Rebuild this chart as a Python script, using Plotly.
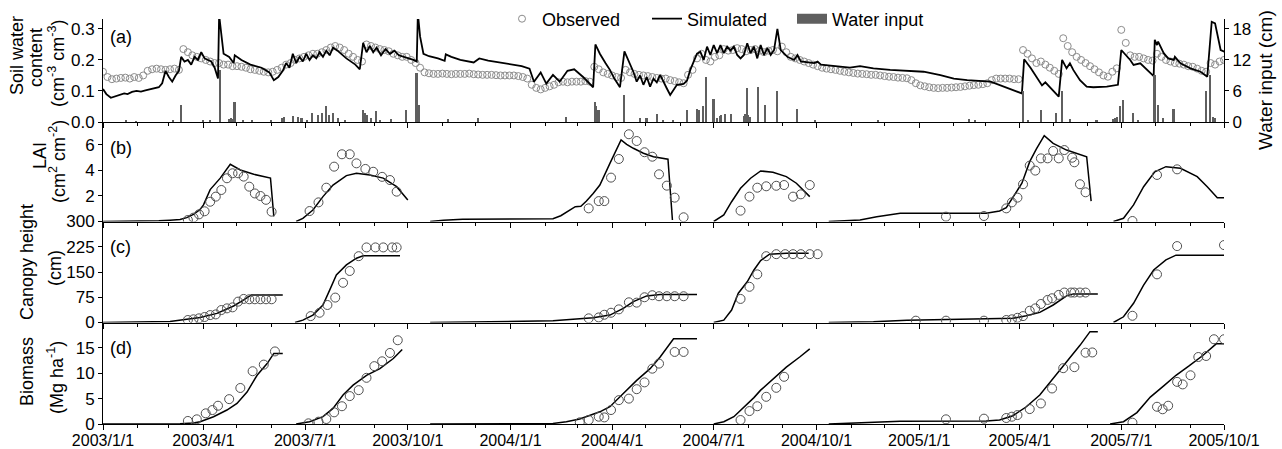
import pandas as pd
import plotly.graph_objects as go

DAY0 = "2003-01-01"
X_END = "2005-10-01"

# ---------------- (a) soil water content ----------------
SWC_OBS_FIRST_DAY = 0
SWC_OBS_INTERVAL = 4
SWC_OBS = [
    0.162, 0.145, 0.138, 0.14, 0.142, 0.143, 0.14, 0.145, 0.142, 0.15,
    0.165, 0.17, 0.172, 0.17, 0.168, 0.17, 0.172, 0.168, 0.235, 0.225,
    0.215, 0.21, 0.205, 0.2, 0.195, 0.19, 0.19, 0.185, 0.185, 0.18,
    0.18, 0.178, 0.175, 0.17, 0.168, 0.165, 0.162, 0.16, 0.162, 0.168,
    0.175, 0.185, 0.19, 0.2, 0.205, 0.21, 0.215, 0.22, 0.22, 0.225,
    0.232, 0.24, 0.245, 0.24, 0.232, 0.22, 0.21, 0.2, 0.195, 0.25,
    0.245, 0.24, 0.235, 0.232, 0.228, 0.22, 0.215, 0.21, 0.21, 0.2,
    0.19, 0.175, 0.16, 0.157, 0.155, 0.155, 0.156, 0.155, 0.154, 0.155,
    0.155, 0.155, 0.156, 0.154, 0.153, 0.152, 0.152, 0.152, 0.151, 0.15,
    0.15, 0.15, 0.15, 0.148, 0.145, 0.14, 0.12, 0.11, 0.105, 0.11,
    0.115, 0.12, 0.128, 0.13, 0.128, 0.13, 0.13, 0.13, 0.132, 0.13,
    0.178, 0.17, 0.16, 0.155, 0.15, 0.145, 0.142, 0.168, 0.16, 0.155,
    0.152, 0.15, 0.148, 0.145, 0.142, 0.14, 0.14, 0.135, 0.132, 0.128,
    0.125, 0.152, 0.168, 0.205, 0.22, 0.2, 0.195, 0.21, 0.215, 0.235,
    0.23, 0.232, 0.238, 0.235, 0.228, 0.232, 0.235, 0.23, 0.225, 0.23,
    0.232, 0.228, 0.243, 0.225, 0.21, 0.205, 0.2, 0.195, 0.19, 0.185,
    0.18, 0.175, 0.172, 0.17, 0.168, 0.165, 0.162, 0.16, 0.158, 0.156,
    0.155, 0.154, 0.152, 0.152, 0.15, 0.148, 0.146, 0.145, 0.143, 0.142,
    0.141, 0.135, 0.125, 0.118, 0.115, 0.112, 0.11, 0.109, 0.11, 0.11,
    0.111, 0.112, 0.113, 0.115, 0.117, 0.119, 0.12, 0.122, 0.125, 0.135,
    0.14, 0.14, 0.14, 0.14, 0.138, 0.138, 0.232, 0.22, 0.205, 0.19,
    0.195, 0.185, 0.175, 0.165, 0.155, 0.27, 0.245, 0.225, 0.21, 0.2,
    0.19, 0.18, 0.17, 0.16, 0.15, 0.146, 0.162, 0.173, 0.297, 0.255,
    0.215, 0.21, 0.21, 0.205, 0.2, 0.198, 0.22, 0.21, 0.2, 0.195,
    0.19, 0.188, 0.185, 0.18, 0.178, 0.172, 0.165, 0.162, 0.19, 0.185,
    0.195, 0.2,
]

SWC_SIM_DAYS = [
    0, 3, 7, 11, 15, 19, 22, 26, 30, 34, 38, 42, 46, 50, 53, 56, 59, 62, 65, 68,
    70, 73, 76, 79, 82, 85, 88, 91, 94, 97, 100, 103, 104, 106, 108, 113, 117, 118, 124, 132,
    142, 149, 153, 157, 161, 164, 167, 170, 173, 176, 179, 182, 185, 188, 191, 194, 197, 200, 203, 206,
    210, 218, 226, 230, 233, 236, 239, 242, 245, 249, 253, 257, 261, 265, 270, 274, 278, 281, 282, 284,
    287, 292, 300, 306, 307, 312, 320, 332, 337, 345, 360, 375, 382, 386, 392, 397, 403, 409, 416, 422,
    430, 439, 441, 445, 450, 454, 458, 463, 467, 472, 475, 478, 481, 484, 487, 490, 493, 496, 499, 505,
    508, 514, 520, 523, 526, 532, 535, 538, 541, 544, 547, 550, 553, 556, 559, 562, 565, 568, 571, 574,
    577, 580, 583, 586, 589, 592, 595, 598, 601, 604, 607, 613, 619, 622, 625, 637, 640, 643, 669, 678,
    690, 705, 720, 735, 750, 762, 774, 786, 795, 823, 825, 831, 837, 841, 844, 856, 859, 863, 866, 869,
    875, 881, 887, 899, 909, 912, 920, 923, 929, 935, 941, 942, 944, 945, 950, 954, 959, 960, 965, 974,
    983, 989, 993, 996, 1001, 1005,
]
SWC_SIM = [
    0.106, 0.09, 0.078, 0.082, 0.088, 0.092, 0.09, 0.097, 0.1, 0.098, 0.102, 0.106, 0.108, 0.112, 0.125, 0.165, 0.145, 0.13, 0.15, 0.165,
    0.21, 0.195, 0.2, 0.185, 0.21, 0.2, 0.225, 0.205, 0.2, 0.195, 0.175, 0.14, 0.345, 0.27, 0.22, 0.21, 0.19, 0.215, 0.2, 0.185,
    0.175, 0.16, 0.135, 0.145, 0.165, 0.19, 0.175, 0.22, 0.19, 0.21, 0.195, 0.22, 0.2, 0.215, 0.205, 0.225, 0.21, 0.23, 0.215, 0.24,
    0.23, 0.205, 0.185, 0.17, 0.255, 0.225, 0.245, 0.225, 0.24, 0.215, 0.235, 0.22, 0.23, 0.215, 0.21, 0.205, 0.2, 0.195, 0.35, 0.275,
    0.22, 0.212, 0.205, 0.197, 0.218, 0.21, 0.2, 0.192, 0.205, 0.198, 0.19, 0.18, 0.172, 0.13, 0.16, 0.124, 0.152, 0.13, 0.165, 0.17,
    0.145, 0.112, 0.25, 0.22, 0.19, 0.168, 0.14, 0.112, 0.228, 0.19, 0.162, 0.13, 0.15, 0.12, 0.145, 0.114, 0.14, 0.128, 0.152, 0.108,
    0.087, 0.12, 0.123, 0.133, 0.168, 0.22, 0.226, 0.2, 0.243, 0.216, 0.248, 0.222, 0.248, 0.222, 0.243, 0.23, 0.243, 0.216, 0.205, 0.216,
    0.254, 0.222, 0.243, 0.205, 0.248, 0.216, 0.238, 0.216, 0.232, 0.3, 0.232, 0.21, 0.2, 0.216, 0.195, 0.19, 0.195, 0.185, 0.175, 0.18,
    0.173, 0.168, 0.165, 0.162, 0.151, 0.14, 0.135, 0.133, 0.13, 0.092, 0.202, 0.173, 0.141, 0.118, 0.128, 0.082, 0.2, 0.173, 0.189, 0.168,
    0.135, 0.114, 0.112, 0.114, 0.12, 0.232, 0.2, 0.184, 0.189, 0.168, 0.148, 0.265, 0.248, 0.259, 0.222, 0.205, 0.2, 0.21, 0.189, 0.173,
    0.162, 0.146, 0.323, 0.318, 0.232, 0.226,
]

RAIN_DAYS = [
    21, 30, 63, 70, 90, 96, 105, 113, 115, 116, 118, 126, 134, 151, 161, 162, 170, 175, 178, 183,
    187, 193, 196, 200, 203, 206, 211, 217, 233, 235, 237, 240, 245, 248, 258, 272, 281, 283, 309, 336,
    415, 441, 442, 444, 467, 481, 487, 496, 502, 511, 523, 532, 534, 538, 540, 547, 550, 553, 554, 557,
    563, 574, 575, 577, 578, 580, 587, 593, 604, 622, 638, 694, 776, 781, 824, 829, 840, 854, 859, 866,
    890, 905, 907, 908, 911, 914, 923, 927, 942, 945, 950, 959, 988, 992, 994, 996,
]
RAIN_CM = [
    0.2, 0.15, 0.3, 3.3, 0.2, 0.2, 10.0, 0.6, 0.8, 0.5, 3.9, 0.4, 0.2, 0.2, 0.8, 0.9, 1.2, 1.0, 0.7, 0.3,
    1.7, 1.35, 1.7, 3.0, 1.35, 1.7, 0.8, 0.4, 2.3, 1.8, 1.4, 0.7, 2.2, 0.3, 0.5, 2.3, 9.4, 3.3, 0.5, 0.7,
    1.0, 3.9, 3.0, 2.3, 5.2, 0.7, 0.8, 1.6, 0.3, 0.3, 2.3, 2.6, 2.3, 3.1, 8.8, 4.4, 0.8, 1.2, 1.4, 1.5,
    1.6, 1.2, 1.5, 6.5, 1.3, 1.0, 6.8, 3.3, 5.9, 2.6, 0.3, 0.3, 0.6, 0.3, 5.9, 0.3, 2.3, 1.7, 5.9, 0.5,
    0.3, 0.6, 0.8, 1.0, 3.1, 4.3, 1.7, 0.4, 9.1, 3.3, 0.8, 2.6, 5.9, 9.1, 1.0, 0.7,
]

# ---------------- (b) LAI ----------------
LAI_SIM_DAYS = [
    [0, 30, 50, 60, 69, 75, 81, 87, 90, 96, 105, 114, 123, 135, 150, 153],
    [173, 179, 188, 197, 206, 218, 227, 239, 251, 263, 273],
    [293, 305, 322, 403, 410, 415, 423, 428, 433, 439, 445, 454, 464, 469, 475, 484, 493, 506, 510],
    [547, 556, 563, 571, 580, 589, 600, 612, 621, 633],
    [650, 678, 693, 714, 791, 803, 809, 815, 823, 830, 836, 843, 851, 863, 881, 885],
    [905, 914, 923, 932, 942, 952, 965, 980, 989, 998, 1004],
]
LAI_SIM = [
    [0, 0.02, 0.05, 0.1, 0.15, 0.3, 0.55, 0.95, 1.3, 2.5, 3.4, 4.48, 4.04, 3.7, 3.4, 0.4],
    [0, 0.25, 0.9, 1.95, 2.86, 3.6, 3.78, 3.65, 3.4, 2.73, 1.69],
    [0, 0.1, 0.18, 0.22, 0.45, 0.72, 1.16, 1.2, 1.6, 2.2, 2.86, 4.56, 6.4, 6.05, 5.74, 5.35, 5.08, 4.88, 0.12],
    [0, 0.51, 1.55, 2.6, 3.39, 3.96, 3.86, 3.52, 3.0, 1.95],
    [0, 0.12, 0.38, 0.64, 0.64, 0.82, 1.08, 1.9, 3.0, 4.69, 5.7, 6.73, 6.13, 5.6, 5.08, 1.6],
    [0, 0.25, 1.3, 2.73, 3.9, 4.3, 4.17, 3.52, 2.73, 1.87, 1.87],
]
LAI_OBS_DAYS = [
    76, 81, 86, 91, 96, 101, 106, 111, 116, 121, 126, 131, 136, 141, 146, 151,
    185, 193, 200, 207, 214, 221, 227, 235, 242, 250, 257, 263,
    435, 444, 449, 455, 462, 471, 478, 485, 492, 498, 505, 512, 520,
    571, 579, 586, 594, 603, 610, 618, 625, 633,
    755, 789, 809, 814, 819, 824, 830, 835, 840, 846, 851, 856, 861, 868, 870, 875, 880,
    922, 944, 962,
]
LAI_OBS = [
    0.12, 0.3, 0.56, 0.8, 1.55, 1.95, 2.47, 3.39, 3.78, 3.78, 3.52, 2.73, 2.2, 2.0, 1.7, 0.77,
    0.82, 1.5, 2.65, 4.3, 5.27, 5.27, 4.56, 4.12, 3.9, 3.5, 3.25, 2.34,
    1.03, 1.6, 1.6, 3.44, 4.9, 6.84, 6.31, 5.43, 5.08, 3.7, 2.81, 1.87, 0.33,
    0.85, 1.95, 2.65, 2.76, 2.8, 2.86, 1.95, 2.13, 2.86,
    0.38, 0.43, 1.03, 1.5, 1.87, 2.92, 4.38, 3.99, 4.95, 4.95, 5.53, 4.95, 5.6, 5.0, 4.64, 2.92, 2.29,
    0.04, 3.65, 4.09,
]

# ---------------- (c) canopy height ----------------
HGT_SIM_DAYS = [
    [0, 40, 60, 75, 87, 102, 117, 126, 133, 161],
    [172, 179, 188, 197, 203, 209, 218, 227, 233, 266],
    [293, 340, 403, 421, 439, 454, 466, 475, 487, 499, 532],
    [547, 556, 563, 569, 577, 583, 589, 597, 612, 632],
    [650, 690, 720, 794, 815, 827, 839, 851, 863, 869, 891],
    [905, 914, 923, 932, 941, 952, 961, 1004],
]
HGT_SIM = [
    [0, 1, 3, 9.5, 15, 27, 49, 67, 82, 82],
    [0, 7, 22, 52, 96, 141, 171, 191, 198, 198],
    [0, 2, 5, 9.5, 14, 22, 42, 62, 79, 83, 83],
    [0, 7, 37, 87, 121, 156, 184, 203, 206, 206],
    [0, 2.5, 7, 9.5, 12.4, 20, 30, 52, 79, 85, 85],
    [0, 17, 57, 111, 156, 186, 200, 200],
]
HGT_OBS_DAYS = [
    76, 81, 86, 91, 96, 101, 106, 111, 116, 121, 126, 131, 136, 141, 146, 151,
    186, 194, 201, 208, 215, 221, 229, 236, 244, 251, 259, 263,
    435, 444, 449, 455, 462, 471, 478, 485, 492, 498, 505, 512, 520,
    571, 579, 586, 594, 603, 611, 618, 625, 633, 640,
    728, 755, 789, 809, 814, 819, 824, 830, 835, 840, 846, 850, 856, 861, 867, 870, 875, 880,
    922, 944, 962, 1004,
]
HGT_OBS = [
    7.4, 9.5, 12.4, 16.3, 22, 24, 37, 42, 45, 62, 70, 69, 69, 69, 69, 69,
    19, 29, 52, 74, 118, 153, 197, 223, 223, 223, 223, 223,
    12.4, 15, 23, 29, 39, 60, 59, 75, 81, 78, 78, 78, 78,
    70, 106, 143, 197, 203, 203, 203, 203, 203, 203,
    5.4, 5.4, 5.4, 7.4, 9.5, 14, 19, 35, 42, 55, 67, 72, 82, 89, 89, 89, 89, 89,
    20, 143, 227, 230,
]

# ---------------- (d) biomass ----------------
BIO_SIM_DAYS = [
    [0, 51, 69, 81, 87, 99, 111, 120, 129, 138, 147, 153, 161],
    [173, 185, 197, 206, 215, 224, 236, 248, 260, 268],
    [293, 380, 403, 415, 427, 445, 454, 466, 478, 490, 499, 511, 532],
    [547, 556, 565, 573, 583, 589, 597, 612, 624, 633],
    [650, 690, 714, 791, 803, 815, 827, 839, 851, 863, 875, 884, 891],
    [902, 914, 926, 938, 950, 961, 973, 985, 997, 1004],
]
BIO_SIM = [
    [0, 0, 0.05, 0.2, 0.46, 1.44, 2.75, 4.05, 6.3, 9.6, 11.9, 13.9, 13.9],
    [0, 0.46, 1.44, 3.07, 5.7, 7.65, 9.6, 10.9, 12.9, 14.7],
    [0, 0.05, 0.1, 0.46, 0.98, 2.4, 3.4, 6.0, 8.6, 10.9, 13.2, 16.8, 16.8],
    [0, 0.46, 1.44, 3.07, 5.2, 6.67, 8.3, 11.2, 13.2, 14.8],
    [0, 0.33, 0.52, 0.59, 0.78, 1.63, 3.4, 5.7, 8.96, 12.2, 15.5, 18.2, 18.2],
    [0, 0.46, 2.25, 5.3, 7.5, 9.6, 11.5, 13.5, 15.8, 15.8],
]
BIO_OBS_DAYS = [
    76, 84, 92, 98, 103, 113, 123, 134, 144, 154,
    184, 193, 200, 207, 214, 221, 229, 236, 243, 250, 257, 264,
    427, 435, 444, 449, 455, 462, 471, 478, 485, 492, 498, 512, 520,
    571, 579, 586, 594, 603, 610,
    755, 789, 809, 814, 819, 830, 840, 850, 860, 870, 880, 886,
    922, 944, 949, 954, 962, 967, 974, 981, 988, 995, 1004,
]
BIO_OBS = [
    0.6, 0.92, 2.1, 2.75, 3.6, 4.9, 7.1, 10.4, 11.7, 14.3,
    0.13, 0.46, 0.98, 2.3, 3.5, 5.5, 6.67, 9.1, 11.4, 12.35, 14.0, 16.5,
    0.33, 0.78, 1.44, 1.3, 2.75, 4.7, 5.0, 6.86, 8.2, 10.9, 11.9, 14.2, 14.2,
    0.78, 2.55, 3.5, 5.36, 7.13, 9.3,
    0.92, 1.05, 1.18, 1.44, 1.76, 2.94, 4.05, 7.0, 11.0, 11.2, 14.05, 14.1,
    0.26, 3.4, 2.9, 3.6, 8.3, 7.8, 9.6, 13.2, 13.4, 16.7, 16.7,
]

# ---------------- helpers ----------------
BASE = pd.Timestamp(DAY0)


def to_dates(days):
    return [None if d is None else BASE + pd.Timedelta(days=d) for d in days]


def join_seasons(day_lists, val_lists):
    xs, ys = [], []
    for dl, vl in zip(day_lists, val_lists):
        xs += to_dates(dl) + [None]
        ys += list(vl) + [None]
    return xs, ys


FONT = "Liberation Sans, Arial, sans-serif"
OBS_COLOR_A = "#8c8c8c"
OBS_COLOR = "#505050"
BAR_COLOR = "#5f5f5f"

fig = go.Figure()

swc_obs_days = [SWC_OBS_FIRST_DAY + i * SWC_OBS_INTERVAL for i in range(len(SWC_OBS))]

# panel (a)
fig.add_trace(go.Bar(x=to_dates(RAIN_DAYS), y=RAIN_CM, xaxis="x", yaxis="y5",
                     width=1.4 * 86400000, marker=dict(color=BAR_COLOR, line=dict(width=0)),
                     showlegend=False, name="Water input"))
fig.add_trace(go.Scatter(x=to_dates(swc_obs_days), y=SWC_OBS, xaxis="x", yaxis="y",
                         mode="markers", name="Observed", legendrank=1,
                         marker=dict(symbol="circle-open", size=7, color=OBS_COLOR_A,
                                     line=dict(width=1, color=OBS_COLOR_A))))
fig.add_trace(go.Scatter(x=to_dates(SWC_SIM_DAYS), y=SWC_SIM, xaxis="x", yaxis="y",
                         mode="lines", name="Simulated", legendrank=2,
                         line=dict(color="black", width=1.8)))
# legend entry for water input
fig.add_trace(go.Scatter(x=[None], y=[None], xaxis="x", yaxis="y", mode="lines",
                         name="Water input", legendrank=3,
                         line=dict(color=BAR_COLOR, width=15)))

panels = [
    ("x2", "y2", LAI_SIM_DAYS, LAI_SIM, LAI_OBS_DAYS, LAI_OBS),
    ("x3", "y3", HGT_SIM_DAYS, HGT_SIM, HGT_OBS_DAYS, HGT_OBS),
    ("x4", "y4", BIO_SIM_DAYS, BIO_SIM, BIO_OBS_DAYS, BIO_OBS),
]
for xa, ya, sd, sv, od, ov in panels:
    xs, ys = join_seasons(sd, sv)
    fig.add_trace(go.Scatter(x=xs, y=ys, xaxis=xa, yaxis=ya, mode="lines",
                             line=dict(color="black", width=1.5), showlegend=False,
                             connectgaps=False))
    fig.add_trace(go.Scatter(x=to_dates(od), y=ov, xaxis=xa, yaxis=ya, mode="markers",
                             showlegend=False,
                             marker=dict(symbol="circle-open", size=9, color=OBS_COLOR,
                                         line=dict(width=1, color=OBS_COLOR))))

# ---------------- layout ----------------
L, R, T, B = 103, 58, 19, 25
W, H = 1282, 449
PW, PH = W - L - R, H - T - B


def px2x(px):
    return (px - L) / PW


def py2y(py):
    return (H - B - py) / PH


dom_a = [py2y(122), 1.0]
dom_b = [py2y(221.5), py2y(122)]
dom_c = [py2y(322.5), py2y(221.5)]
dom_d = [0.0, py2y(322.5)]

x_common = dict(
    type="date", range=[DAY0, X_END], showline=True, linecolor="black", linewidth=1,
    ticks="outside", ticklen=5, tickwidth=1, tickcolor="black",
    dtick="M3", tick0=DAY0, tickformat="%Y/%-m/%-d",
    minor=dict(dtick="M1", tick0=DAY0, ticks="outside", ticklen=3, tickcolor="black", showgrid=False),
    showgrid=False, zeroline=False, automargin=False,
    tickfont=dict(size=16, color="black", family=FONT),
)
y_common = dict(
    showline=True, linecolor="black", linewidth=1, ticks="outside", ticklen=4,
    tickcolor="black", showgrid=False, zeroline=False, automargin=False,
    tickfont=dict(size=17, color="black", family=FONT),
)

fig.update_layout(
    width=W, height=H,
    margin=dict(l=L, r=R, t=T, b=B, pad=0, autoexpand=False),
    paper_bgcolor="white", plot_bgcolor="white",
    font=dict(family=FONT, color="black"),
    bargap=0,
    xaxis=dict(x_common, anchor="y", showticklabels=False),
    xaxis2=dict(x_common, anchor="y2", matches="x", showticklabels=False),
    xaxis3=dict(x_common, anchor="y3", matches="x", showticklabels=False),
    xaxis4=dict(x_common, anchor="y4", matches="x", showticklabels=True, ticklabelstandoff=-3),
    yaxis=dict(y_common, domain=dom_a, anchor="x", range=[0, 0.332],
               tickvals=[0, 0.1, 0.2, 0.3], ticktext=["0.0", "0.1", "0.2", "0.3"]),
    yaxis5=dict(y_common, overlaying="y", side="right", anchor="x", range=[0, 19.92],
                tickvals=[0, 6, 12, 18]),
    yaxis2=dict(y_common, domain=dom_b, anchor="x2", range=[0, 7.8], tickvals=[2, 4, 6]),
    yaxis3=dict(y_common, domain=dom_c, anchor="x3", range=[0, 300],
                tickvals=[0, 75, 150, 225, 300]),
    yaxis4=dict(y_common, domain=dom_d, anchor="x4", range=[0, 20], tickvals=[0, 5, 10, 15]),
    legend=dict(orientation="h", x=px2x(502), y=py2y(19), xanchor="left", yanchor="middle",
                bgcolor="rgba(0,0,0,0)", font=dict(size=18, family=FONT, color="black"),
                itemwidth=30, traceorder="normal", entrywidth=100, entrywidthmode="pixels"),
)

annotations = []
for text, py in [("(a)", 37), ("(b)", 148), ("(c)", 247), ("(d)", 348)]:
    annotations.append(dict(text=text, x=px2x(108), y=py2y(py), xref="paper", yref="paper",
                            xanchor="left", yanchor="middle", showarrow=False,
                            font=dict(size=18, family=FONT, color="black")))

titles = [
    ("Soil water", 17, 56),
    ("content", 36, 58),
    ("(cm<sup>-3</sup> cm<sup>-3</sup>)", 56, 64),
    ("LAI", 40, 156),
    ("(cm<sup>2</sup> cm<sup>-2</sup>)", 57, 162),
    ("Canopy height", 27, 262),
    ("(cm)", 55, 268),
    ("Biomass", 27, 372),
    ("(Mg ha<sup>-1</sup>)", 55, 378),
]
for text, px, py in titles:
    annotations.append(dict(text=text, x=px2x(px), y=py2y(py), xref="paper", yref="paper",
                            xanchor="center", yanchor="middle", textangle=-90, showarrow=False,
                            font=dict(size=18, family=FONT, color="black")))
annotations.append(dict(text="Water input (cm)", x=px2x(1266), y=py2y(80), xref="paper",
                        yref="paper", xanchor="center", yanchor="middle", textangle=-90,
                        showarrow=False, font=dict(size=19, family=FONT, color="black")))
fig.update_layout(annotations=annotations)

fig.write_html("out.html", config={"displayModeBar": False},
               post_script="document.body.style.margin='0';document.body.style.overflow='hidden';")
